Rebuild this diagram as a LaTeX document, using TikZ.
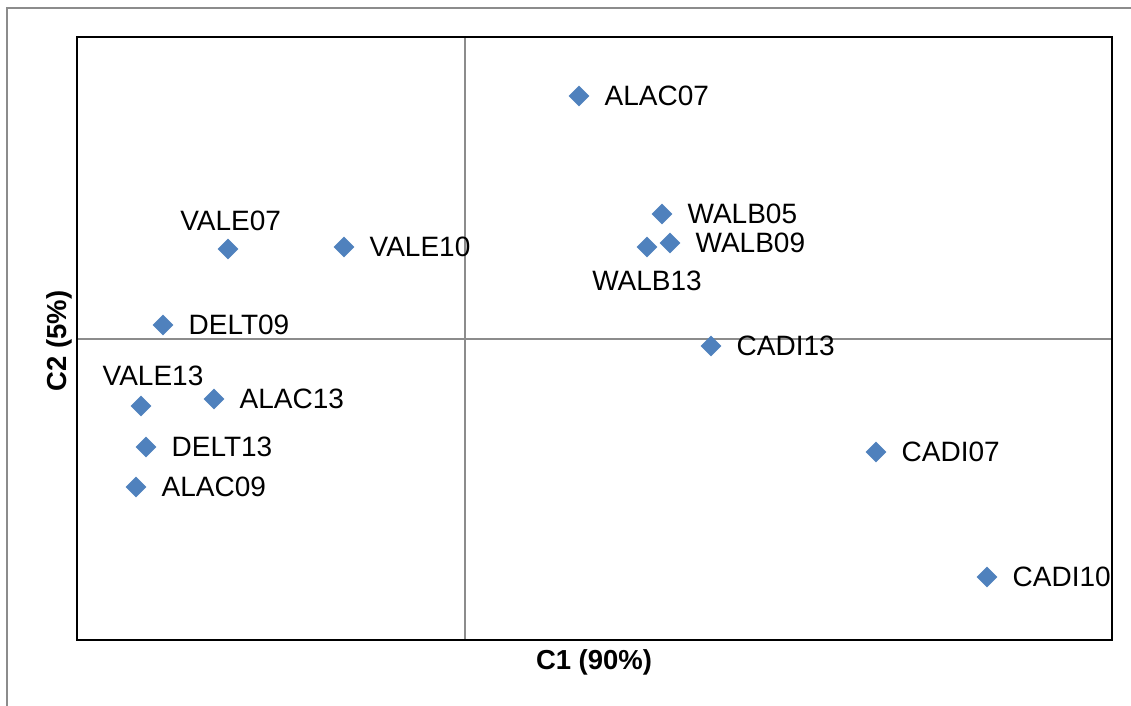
\documentclass[tikz,border=0pt]{standalone}
\usepackage{fontspec}
\setmainfont{Liberation Sans}
\usetikzlibrary{positioning,shapes.geometric}
\definecolor{ptblue}{HTML}{4F81BD}
\definecolor{linegray}{HTML}{8C8C8C}
\tikzset{
  ptmark/.style={diamond, fill=ptblue, inner sep=0pt, outer sep=0pt,
                 minimum width=15.5pt, minimum height=15.5pt},
  ptlab/.style={inner sep=0pt, outer sep=0pt, text=black,
                font=\fontsize{21}{24}\selectfont},
  axtitle/.style={inner sep=0pt, font=\fontsize{20.6}{24}\selectfont\bfseries},
  gridline/.style={draw=linegray, line width=1.5pt},
}
\begin{document}
\begin{tikzpicture}[x=0.75pt,y=-0.75pt]
\useasboundingbox (0,0) rectangle (1131,706);
\draw[gridline] (7,706) -- (7,8) -- (1131,8);
\draw[gridline] (464.5,37) -- (464.5,639.5);
\draw[gridline] (77,338.5) -- (1112,338.5);
\draw[black, line width=1.5pt] (77,37) rectangle (1112,639.5);

\node[ptmark] (alac07) at (579,96) {};
\node[ptmark] (walb05) at (662,214) {};
\node[ptmark] (walb09) at (670,243) {};
\node[ptmark] (walb13) at (647,247) {};
\node[ptmark] (vale07) at (228,249) {};
\node[ptmark] (vale10) at (344,247) {};
\node[ptmark] (delt09) at (163,325) {};
\node[ptmark] (cadi13) at (711,346) {};
\node[ptmark] (vale13) at (141,406) {};
\node[ptmark] (alac13) at (214,399) {};
\node[ptmark] (delt13) at (146,447) {};
\node[ptmark] (alac09) at (136,487) {};
\node[ptmark] (cadi07) at (876,452) {};
\node[ptmark] (cadi10) at (987,577) {};

\node[ptlab, right=11.5pt of alac07] (lalac07) {ALAC07};
\node[ptlab, right=11.5pt of walb05] (lwalb05) {WALB05};
\node[ptlab, right=11.5pt of walb09] (lwalb09) {WALB09};
\node[ptlab, below=10pt of walb13] (lwalb13) {WALB13};
\node[ptlab, above=6pt of vale07, xshift=2pt] (lvale07) {VALE07};
\node[ptlab, right=11.5pt of vale10] (lvale10) {VALE10};
\node[ptlab, right=11.5pt of delt09] (ldelt09) {DELT09};
\node[ptlab, right=11.5pt of cadi13] (lcadi13) {CADI13};
\node[ptlab, above=7.5pt of vale13, xshift=9pt] (lvale13) {VALE13};
\node[ptlab, right=11.5pt of alac13] (lalac13) {ALAC13};
\node[ptlab, right=11.5pt of delt13] (ldelt13) {DELT13};
\node[ptlab, right=11.5pt of alac09] (lalac09) {ALAC09};
\node[ptlab, right=11.5pt of cadi07] (lcadi07) {CADI07};
\node[ptlab, right=11.5pt of cadi10] (lcadi10) {CADI10};

\node[axtitle] (xtitle) at (594,662) {C1 (90\%)};
\node[axtitle, rotate=90] (ytitle) at (59,341) {C2 (5\%)};
\end{tikzpicture}
\end{document}
